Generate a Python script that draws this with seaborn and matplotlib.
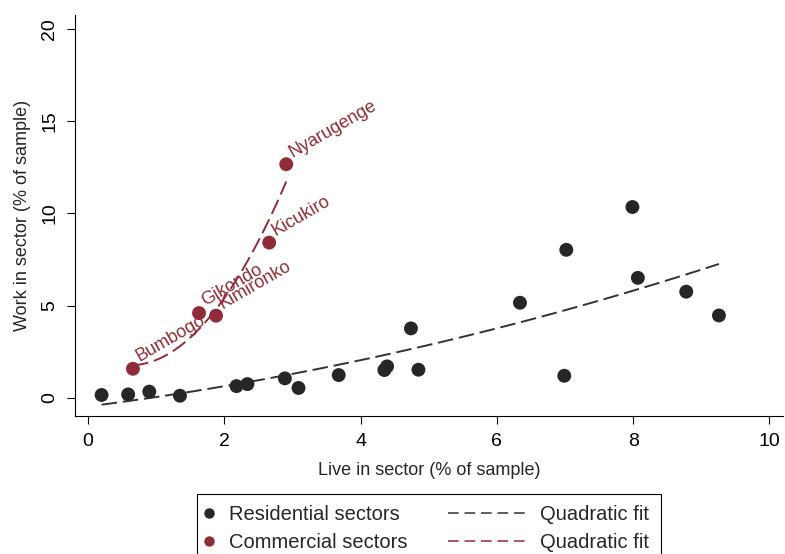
import numpy as np
import pandas as pd
import matplotlib
matplotlib.use("Agg")
import matplotlib.pyplot as plt
from matplotlib.lines import Line2D
from matplotlib.patches import Rectangle
import seaborn as sns

# ----------------- data -----------------
res_live = [0.20, 0.59, 0.90, 1.35, 2.18, 2.34, 2.89, 3.09, 3.68, 4.35, 4.39,
            4.74, 4.85, 6.34, 6.99, 7.02, 7.99, 8.07, 8.78, 9.26]
res_work = [0.15, 0.18, 0.33, 0.11, 0.63, 0.74, 1.05, 0.53, 1.23, 1.50, 1.70,
            3.76, 1.52, 5.15, 1.19, 8.02, 10.34, 6.50, 5.75, 4.46]

com_names = ['Bumbogo', 'Gikondo', 'Kimironko', 'Kicukiro', 'Nyarugenge']
com_live = [0.66, 1.63, 1.88, 2.66, 2.91]
com_work = [1.57, 4.59, 4.45, 8.41, 12.66]

x_ticks = [0, 2, 4, 6, 8, 10]
y_ticks = [0, 5, 10, 15, 20]

res = pd.DataFrame({'live': res_live, 'work': res_work})
com = pd.DataFrame({'live': com_live, 'work': com_work, 'name': com_names})

black = '#262626'
fit_black = '#333333'
red = '#8e2d37'

# ----------------- plot -----------------
sns.set_style('white')
plt.rcParams['font.family'] = ['Liberation Sans', 'DejaVu Sans']

W, H = 785, 554
fig = plt.figure(figsize=(W / 100, H / 100), dpi=100)
ax = fig.add_axes([75 / W, 1 - 416 / H, (783 - 75) / W, (416 - 15) / H])

# quadratic fits
sns.regplot(data=res, x='live', y='work', order=2, ci=None, scatter=False, ax=ax,
            line_kws={'color': fit_black, 'ls': (0, (8, 3)), 'lw': 1.4})
sns.regplot(data=com, x='live', y='work', order=2, ci=None, scatter=False, ax=ax,
            line_kws={'color': red, 'ls': (0, (8, 3)), 'lw': 1.4})

# points
sns.scatterplot(data=res, x='live', y='work', color=black, s=100, edgecolor='none', ax=ax, zorder=3)
sns.scatterplot(data=com, x='live', y='work', color=red, s=100, edgecolor='none', ax=ax, zorder=3)

# labels for commercial sectors
for _, r in com.iterrows():
    ax.annotate(r['name'], (r['live'], r['work']), xytext=(4.5, 5), textcoords='offset points',
                rotation=30, rotation_mode='anchor', ha='left', va='baseline',
                color=red, fontsize=13)

ax.set_xlim(-0.19, 10.2)
ax.set_ylim(-0.99, 20.75)
ax.set_xticks(x_ticks)
ax.set_yticks(y_ticks)
ax.set_yticklabels([str(t) for t in y_ticks], rotation=90, va='center')
ax.tick_params(axis='both', direction='out', length=6, width=0.8, colors='black',
               labelsize=14, bottom=True, left=True, pad=6)
ax.set_xlabel('Live in sector (% of sample)', fontsize=13, labelpad=9)
ax.set_ylabel('Work in sector (% of sample)', fontsize=13, labelpad=7.5)

sns.despine(ax=ax)
for s in ['left', 'bottom']:
    ax.spines[s].set_color('black')
    ax.spines[s].set_linewidth(0.8)

# legend: frame box plus two frameless columns
fig.add_artist(Rectangle((197.3 / W, -0.05), (661 - 197.3) / W, (1 - 494 / H) + 0.05,
                         transform=fig.transFigure, facecolor='white', edgecolor='black', lw=0.8))
fs = 14.5
mark_handles = [Line2D([], [], marker='o', ls='none', color=black, markersize=6.5),
                Line2D([], [], marker='o', ls='none', color=red, markersize=6.5)]
line_handles = [Line2D([], [], color=fit_black, ls=(0, (7, 3.8)), lw=1.1),
                Line2D([], [], color=red, ls=(0, (7, 3.8)), lw=1.1)]
leg1 = fig.legend(mark_handles, ['Residential sectors', 'Commercial sectors'],
                  loc='upper left', bbox_to_anchor=(198.5 / W, 1 - 505 / H),
                  fontsize=fs, frameon=False, handlelength=1.0, handletextpad=0.5,
                  labelspacing=0.45, borderpad=0, borderaxespad=0)
leg2 = fig.legend(line_handles, ['Quadratic fit', 'Quadratic fit'],
                  loc='upper left', bbox_to_anchor=(448 / W, 1 - 505 / H),
                  fontsize=fs, frameon=False, handlelength=3.87, handletextpad=0.72,
                  labelspacing=0.45, borderpad=0, borderaxespad=0)

fig.savefig('out.png', dpi=100)
